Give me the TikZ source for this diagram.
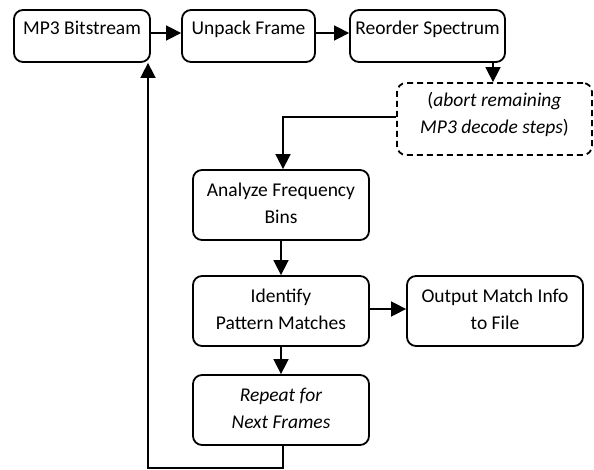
\documentclass[tikz,border=0pt]{standalone}
\usepackage{fontspec}
\setmainfont{Carlito}
\usetikzlibrary{arrows.meta}
\begin{document}
\begin{tikzpicture}[x=1pt,y=-1pt,
  box/.style={draw,line width=1.8pt,rounded corners=9pt,inner sep=0pt},
  txt/.style={inner sep=0pt,align=center,font=\fontsize{19.5}{27}\selectfont},
  conn/.style={line width=1.6pt,-{Triangle[length=15pt,width=15pt]}},
  plain/.style={line width=1.6pt}]
\useasboundingbox (0,0) rectangle (594,470);
% top row boxes
\node[box,minimum width=136pt,minimum height=52pt] (mp3) at (82,36) {};
\node[box,minimum width=133pt,minimum height=52pt] (unp) at (248.5,36) {};
\node[box,minimum width=155pt,minimum height=52pt] (reo) at (427.5,36) {};
\node[txt,anchor=base] (mp3t) at (82,35) {MP3 Bitstream};
\node[txt,anchor=base] (unpt) at (248.5,35) {Unpack Frame};
\node[txt,anchor=base] (reot) at (427.5,35) {Reorder Spectrum};
% dashed box
\node[box,dash pattern=on 6pt off 4pt,minimum width=195pt,minimum height=72pt] (abo) at (494.5,119) {};
\node[txt] (abot) at (494.5,114) {(\textit{abort remaining}\\\textit{MP3 decode steps})};
% column
\node[box,minimum width=176pt,minimum height=70pt] (ana) at (281,205) {};
\node[txt] (anat) at (281,203) {Analyze Frequency\\Bins};
\node[box,minimum width=176pt,minimum height=70pt] (ide) at (281,311) {};
\node[txt] (idet) at (281,309) {Identify\\Pattern Matches};
\node[box,minimum width=176pt,minimum height=70pt] (out) at (495,311) {};
\node[txt] (outt) at (495,309) {Output Match Info\\to File};
\node[box,minimum width=176pt,minimum height=70pt] (rep) at (281,410) {};
\node[txt] (rept) at (281,408) {\textit{Repeat for}\\\textit{Next Frames}};
% connectors
\draw[conn] ([yshift=3pt]mp3.east) -- ([yshift=3pt]unp.west);
\draw[conn] ([yshift=3pt]unp.east) -- ([yshift=3pt]reo.west);
\draw[conn] (reo.south -| 493,0) -- (abo.north -| 493,0);
\draw[conn] ([yshift=2pt]abo.west) -| ([xshift=2pt]ana.north);
\draw[conn] (ana.south) -- (ide.north);
\draw[conn] ([yshift=2pt]ide.east) -- ([yshift=2pt]out.west);
\draw[conn] (ide.south) -- (rep.north);
\coordinate (fb) at (148,468);
\draw[conn] ([xshift=2pt]rep.south) |- (fb) -- (fb |- mp3.south);
\end{tikzpicture}
\end{document}
